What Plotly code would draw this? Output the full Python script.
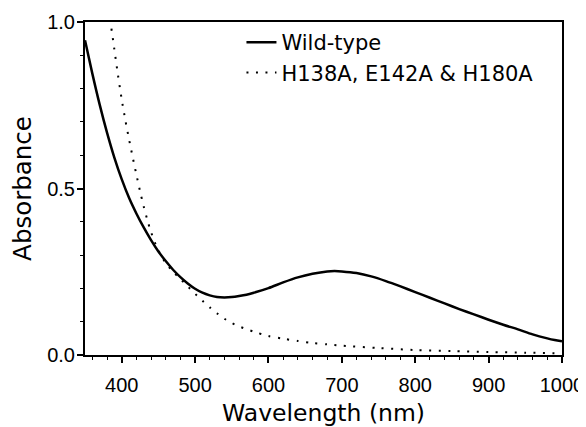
import plotly.graph_objects as go

# ---- data ----
wt_wavelength = [350, 360, 370, 380, 390, 400, 410, 420, 430, 440, 450, 460, 470, 480,
                 490, 500, 510, 520, 530, 540, 550, 560, 570, 580, 600, 620, 640, 660,
                 680, 690, 700, 720, 740, 760, 780, 800, 820, 840, 860, 880, 900, 920,
                 940, 960, 980, 990, 1000]
wt_absorbance = [0.945, 0.845, 0.752, 0.668, 0.593, 0.528, 0.472, 0.425, 0.383, 0.345,
                 0.311, 0.282, 0.256, 0.234, 0.215, 0.199, 0.187, 0.179, 0.174, 0.173,
                 0.174, 0.177, 0.181, 0.187, 0.201, 0.218, 0.233, 0.244, 0.251, 0.252,
                 0.251, 0.246, 0.236, 0.222, 0.206, 0.189, 0.172, 0.155, 0.138, 0.122,
                 0.106, 0.091, 0.077, 0.062, 0.050, 0.045, 0.041]

mut_wavelength = [386, 390, 395, 400, 405, 410, 415, 420, 425, 430, 435, 440, 445, 450,
                  455, 460, 470, 480, 490, 500, 510, 520, 530, 540, 550, 560, 580, 600,
                  620, 640, 660, 680, 700, 750, 800, 850, 900, 950, 1000]
mut_absorbance = [0.980, 0.918, 0.840, 0.768, 0.705, 0.648, 0.594, 0.542, 0.492, 0.446,
                  0.405, 0.369, 0.339, 0.314, 0.294, 0.276, 0.250, 0.228, 0.206, 0.184,
                  0.163, 0.143, 0.125, 0.109, 0.096, 0.086, 0.070, 0.057, 0.049, 0.042,
                  0.036, 0.032, 0.028, 0.021, 0.015, 0.012, 0.009, 0.007, 0.005]

series_names = ["Wild-type", "H138A, E142A & H180A"]
x_tick_values = [400, 500, 600, 700, 800, 900, 1000]
y_tick_values = [0.0, 0.5, 1.0]

fig = go.Figure()
fig.add_trace(go.Scatter(x=wt_wavelength, y=wt_absorbance, mode="lines",
                         name=series_names[0],
                         line=dict(color="black", width=2.5, shape="spline", smoothing=0.8)))
fig.add_trace(go.Scatter(x=mut_wavelength, y=mut_absorbance, mode="lines",
                         name=series_names[1],
                         line=dict(color="black", width=2, dash="2px,7.5px",
                                   shape="spline", smoothing=0.8)))

tick_font = dict(family="Liberation Sans, Arial, sans-serif", size=20, color="black")
xtitle_font = dict(family="DejaVu Sans, Verdana, sans-serif", size=23.5, color="black")
ytitle_font = dict(family="DejaVu Sans, Verdana, sans-serif", size=24.5, color="black")

# the page adds an 8px body margin, so the figure is 8px smaller than the window
fig.update_layout(
    width=578, height=419,
    margin=dict(l=77, r=24, t=14, b=72),
    paper_bgcolor="white", plot_bgcolor="white",
    showlegend=True,
    legend=dict(x=0.328, y=1.0, xanchor="left", yanchor="top",
                font=dict(family="DejaVu Sans, Verdana, sans-serif", size=21, color="black"),
                bgcolor="rgba(0,0,0,0)", borderwidth=0, tracegroupgap=0),
    xaxis=dict(range=[350, 1000], tickvals=x_tick_values, ticks="outside", ticklen=6,
               tickwidth=1.5, tickcolor="black", showline=True, linewidth=2, linecolor="black",
               mirror=True, showgrid=False, zeroline=False, tickfont=tick_font,
               ticklabelstandoff=5, automargin=False,
               minor=dict(dtick=20, tick0=0, ticks="outside", ticklen=3, tickwidth=1.2,
                          tickcolor="black", showgrid=False),
               title=dict(text="Wavelength (nm)", font=xtitle_font, standoff=15)),
    yaxis=dict(range=[0, 1.0], tickvals=y_tick_values, tickformat=".1f", ticks="outside",
               ticklen=6, tickwidth=1.5, tickcolor="black", showline=True, linewidth=2,
               linecolor="black", mirror=True, showgrid=False, zeroline=False,
               tickfont=tick_font, ticklabelstandoff=-2, automargin=False,
               minor=dict(dtick=0.1, tick0=0, ticks="outside", ticklen=3, tickwidth=1.2,
                          tickcolor="black", showgrid=False),
               title=dict(text="Absorbance", font=ytitle_font, standoff=17)),
)

fig.write_html("out.html")
